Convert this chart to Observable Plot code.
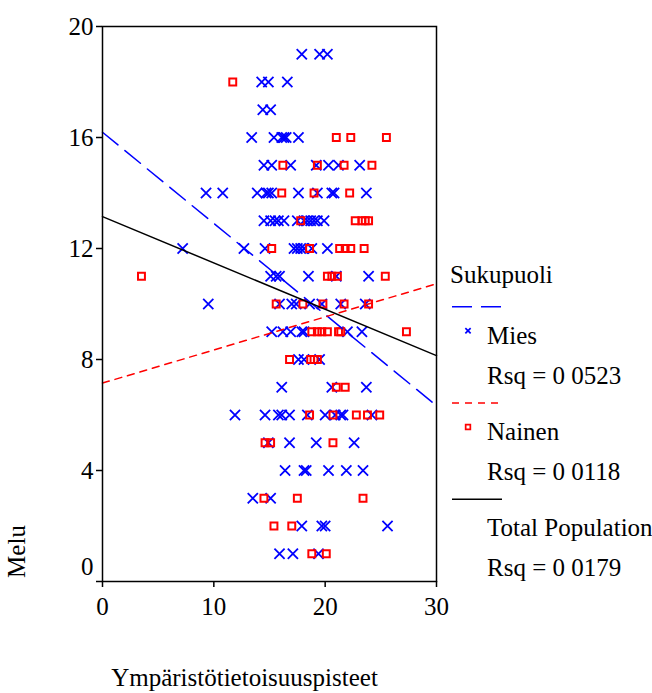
<!DOCTYPE html>
<html>
<head>
<meta charset="utf-8">
<script src="https://cdn.jsdelivr.net/npm/d3@7"></script>
<script src="https://cdn.jsdelivr.net/npm/@observablehq/plot@0.6"></script>
<style>
  body { margin: 0; background: #fff; }
  #chart { position: relative; width: 652px; height: 693px; font-family: "Liberation Serif", serif; }
  #chart text { font-family: "Liberation Serif", serif; }
  #legend { position: absolute; left: 0; top: 0; pointer-events: none; }
</style>
</head>
<body>
<div id="chart"></div>
<script>
// Melu (noise score, rows) against Ympäristötietoisuuspisteet (environmental awareness score)
// Each row: [Melu, [Ympäristötietoisuuspisteet values...]]
const miesRows = [
  [19, [17.9, 19.5, 20.2]],
  [18, [14.3, 14.9, 16.6]],
  [17, [14.4, 15.1]],
  [16, [13.4, 15.4, 16.1, 16.3, 16.5, 17.6]],
  [15, [14.5, 15.2, 16.9, 19.2, 20.3, 21.2, 23.1]],
  [14, [9.3, 10.8, 13.9, 14.7, 14.9, 15.2, 17.6, 19.3, 20.6, 20.8, 23.7]],
  [13, [14.5, 15.1, 15.5, 15.8, 16.3, 17.5, 18.1, 18.4, 18.7, 19.0, 19.3, 19.9]],
  [12, [7.2, 12.7, 14.6, 17.2, 17.5, 17.8, 18.1, 18.8, 20.2]],
  [11, [15.1, 15.6, 15.9, 18.5, 21.0, 23.9]],
  [10, [9.5, 15.9, 17.0, 17.4, 18.6, 19.7, 21.4, 23.6]],
  [9,  [15.2, 16.2, 16.9, 17.9, 18.1, 22.0, 23.3]],
  [8,  [17.6, 18.1, 19.5]],
  [7,  [16.1, 20.6, 23.7]],
  [6,  [11.9, 14.6, 15.8, 16.1, 16.8, 18.4, 20.0, 20.9, 21.4, 21.6, 24.2]],
  [5,  [14.9, 16.8, 19.2, 22.6]],
  [4,  [16.4, 18.1, 18.3, 20.3, 21.9, 23.4]],
  [3,  [13.5, 15.1]],
  [2,  [17.9, 19.7, 20.0, 25.6]],
  [1,  [15.9, 17.1, 19.4]]
];

const nainenRows = [
  [18, [11.7]],
  [16, [21.0, 22.3, 25.5]],
  [15, [16.2, 19.3, 21.7, 24.2]],
  [14, [16.1, 19.0, 22.2]],
  [13, [17.8, 22.7, 23.3, 23.6, 23.9]],
  [12, [15.2, 18.6, 21.3, 21.8, 22.3, 23.5]],
  [11, [3.5, 20.2, 20.6, 21.1, 25.4]],
  [10, [15.6, 18.0, 19.8, 21.7, 23.9]],
  [9,  [18.8, 19.3, 19.7, 20.2, 21.2, 21.4, 27.3]],
  [8,  [16.8, 18.7, 19.0, 19.3]],
  [7,  [21.0, 21.8]],
  [6,  [18.6, 20.7, 22.8, 23.8, 24.9]],
  [5,  [14.6, 15.1, 20.7]],
  [3,  [14.5, 17.5, 23.4]],
  [2,  [15.4, 17.0]],
  [1,  [18.8, 20.1]]
];

// Linear fit lines (intercept at 0, slope per point) for each group
const fitNames      = ["Mies", "Nainen", "Total Population"];
const fitIntercepts = [16.19, 7.15, 13.15];
const fitSlopes     = [-0.3285, 0.1193, -0.167];
const fitRsq        = ["Rsq = 0 0523", "Rsq = 0 0118", "Rsq = 0 0179"];
const fitColors     = ["#0000ff", "#ff0000", "#000000"];
const fitDashes     = ["20,9", "7,6", null];
const fitSymbols    = ["times", "square", null];

const legendTitle = "Sukupuoli";
const xTitle = "Ympäristötietoisuuspisteet";
const yTitle = "Melu";
const xTicks = [0, 10, 20, 30];
const yTicks = [0, 4, 8, 12, 16, 20];
const xDomain = [0, 30];
const yDomain = [0, 20];

const flatten = rows => rows.flatMap(([melu, xs]) => xs.map(v => ({x: v, y: melu})));
const mies = flatten(miesRows);
const nainen = flatten(nainenRows);

const fitLines = fitNames.map((name, i) =>
  xDomain.map(x => ({name, x, y: fitIntercepts[i] + fitSlopes[i] * x}))
);

const font = "Liberation Serif";

const fitMarks = fitLines.map((pts, i) =>
  Plot.line(pts, {x: "x", y: "y", stroke: fitColors[i], strokeWidth: 1.5,
    strokeDasharray: fitDashes[i] || undefined})
);

const plot = Plot.plot({
  width: 652,
  height: 693,
  marginLeft: 102,
  marginRight: 216,
  marginTop: 26,
  marginBottom: 112,
  x: {domain: xDomain, axis: null, label: null},
  y: {domain: yDomain, axis: null, label: null},
  style: {fontFamily: font, fontSize: "25px", background: "white", color: "black", overflow: "visible"},
  marks: [
    Plot.dot(mies, {x: "x", y: "y", symbol: "times", r: 4.7, stroke: "#0000ff", strokeWidth: 1.8}),
    Plot.dot(nainen, {x: "x", y: "y", symbol: "square", r: 3.9, stroke: "#ff0000", strokeWidth: 2, fill: "none"}),
    ...fitMarks,
    Plot.frame({stroke: "black", strokeWidth: 1.5}),
    Plot.axisY({ticks: yTicks, tickSize: 6, tickPadding: 3, strokeWidth: 1.5, fontSize: 25,
      fontFamily: font, tickFormat: t => (t === 0 ? "" : t), label: null}),
    Plot.axisY({ticks: [0], tickSize: 0, tickPadding: 9, fontSize: 25, fontFamily: font, dy: -15, label: null}),
    Plot.axisX({ticks: xTicks, tickSize: 6, tickPadding: 10, strokeWidth: 1.5, fontSize: 25,
      fontFamily: font, label: null}),
    Plot.text([yTitle], {frameAnchor: "bottom-left", dx: -78, dy: -30, rotate: -90,
      textAnchor: "middle", fontSize: 25, fontFamily: font}),
    Plot.text([xTitle], {frameAnchor: "bottom", dx: -25, dy: 104, textAnchor: "middle",
      fontSize: 25, fontFamily: font})
  ]
});

const chart = document.getElementById("chart");
chart.appendChild(plot);

// Legend on the right of the plot area
const legend = d3.select(chart).append("svg")
  .attr("id", "legend")
  .attr("width", 652).attr("height", 693)
  .attr("font-family", font)
  .attr("font-size", 25);

legend.append("text").attr("x", 450).attr("y", 283)
  .attr("font-family", font).text(legendTitle);

fitNames.forEach((name, i) => {
  const y0 = 306.7 + i * 96.3;
  legend.append("line")
    .attr("x1", 452).attr("x2", 502).attr("y1", y0).attr("y2", y0)
    .attr("stroke", fitColors[i]).attr("stroke-width", 1.5)
    .attr("stroke-dasharray", fitDashes[i]);
  if (fitSymbols[i]) {
    const type = fitSymbols[i] === "times" ? d3.symbolTimes : d3.symbolSquare;
    const size = fitSymbols[i] === "times" ? 20 : 22;
    legend.append("path")
      .attr("transform", `translate(468,${y0 + 24})`)
      .attr("d", d3.symbol(type, size)())
      .attr("fill", "none")
      .attr("stroke", fitColors[i])
      .attr("stroke-width", 1.7);
  }
  legend.append("text").attr("x", 487).attr("y", y0 + 37)
    .attr("font-family", font).text(name);
  legend.append("text").attr("x", 487).attr("y", y0 + 77)
    .attr("font-family", font).text(fitRsq[i]);
});
</script>
</body>
</html>
